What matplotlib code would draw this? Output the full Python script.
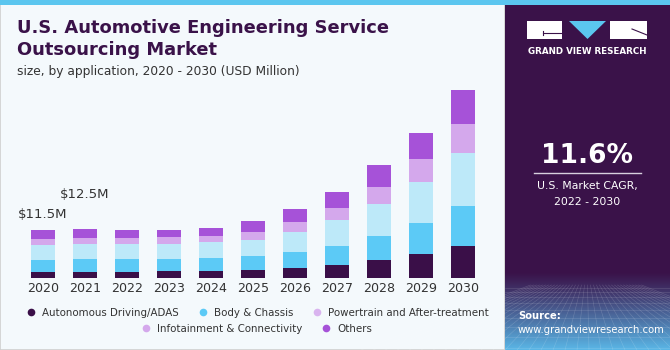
import numpy as np
import matplotlib.pyplot as plt
from matplotlib.patches import Rectangle, Polygon
from matplotlib.lines import Line2D

# data (USD Million)
years = ["2020", "2021", "2022", "2023", "2024", "2025", "2026", "2027", "2028", "2029", "2030"]
adas = [1.56, 1.56, 1.56, 1.73, 1.73, 2.03, 2.51, 3.22, 4.33, 5.82, 7.71]
body = [2.84, 3.00, 3.00, 2.84, 3.00, 3.17, 3.64, 4.50, 5.75, 7.33, 9.39]
powertrain = [3.48, 3.48, 3.48, 3.62, 3.79, 3.93, 4.80, 6.01, 7.57, 9.70, 12.47]
infotainment = [1.42, 1.42, 1.56, 1.59, 1.56, 1.75, 2.37, 2.98, 4.02, 5.30, 6.93]
others = [2.20, 2.13, 1.89, 1.73, 1.82, 2.60, 3.08, 3.79, 5.06, 6.15, 7.97]

series = ["Autonomous Driving/ADAS", "Body & Chassis", "Powertrain and After-treatment",
          "Infotainment & Connectivity", "Others"]
bar_colors = ["#3a0f48", "#5ccaf6", "#bde9f9", "#d4a8ec", "#a652d8"]
legend_colors = ["#3a0f48", "#5ccaf6", "#d9b4ef", "#d4a8ec", "#a652d8"]

W, H = 670, 350
fig = plt.figure(figsize=(6.7, 3.5), dpi=100)
fig.patch.set_facecolor("#f4f9fc")

# background axes in pixel coords
bg = fig.add_axes([0, 0, 1, 1])
bg.axis("off")

bg.add_patch(Rectangle((0, 0), 505, H, facecolor="#f4f9fc", edgecolor="#cfcfcf", lw=1.2))
# right panel
bg.add_patch(Rectangle((505, 0), 165, H, facecolor="#3a1249", edgecolor="none"))
grad = np.linspace(0, 1, 100).reshape(-1, 1)
top_c = np.array([0x3a, 0x12, 0x49]) / 255
bot_c = np.array([0x5a, 0xb6, 0xe6]) / 255
img = top_c + (bot_c - top_c) * grad[..., None] ** 1.1
bg.imshow(img, extent=(505, 670, 350, 272), aspect="auto", zorder=1)
# faint perspective grid
for i in range(-12, 26):
    x0 = 505 + i * 12
    bg.plot([587 + (x0 - 587) * 0.25, x0], [285, 350], color="white", lw=0.4, alpha=0.18, zorder=2)
for yy in [288, 292, 297, 303, 310, 318, 327, 337, 348]:
    bg.plot([505, 670], [yy, yy], color="white", lw=0.4, alpha=0.18, zorder=2)
bg.set_xlim(0, W)
bg.set_ylim(H, 0)

# top strip
bg.add_patch(Rectangle((0, 0), W, 5, facecolor="#5bc6ef", edgecolor="none", zorder=3))

# logo
bg.add_patch(Rectangle((527, 21), 35, 18, facecolor="white", edgecolor="none", zorder=3))
bg.add_patch(Polygon([(569, 21), (606, 21), (587.5, 39)], facecolor="#5bc6ef", edgecolor="none", zorder=3))
bg.add_patch(Rectangle((610, 21), 37, 18, facecolor="white", edgecolor="none", zorder=3))
bg.plot([543, 562], [33, 33], color="#3a1249", lw=0.8, zorder=4)
bg.plot([543, 543], [31, 35], color="#3a1249", lw=0.8, zorder=4)
bg.plot([632, 647], [29, 35], color="#3a1249", lw=0.8, zorder=4)
bg.text(587, 52, "GRAND VIEW RESEARCH", color="white", fontsize=6.3, fontweight="bold",
        ha="center", va="center", zorder=4)

bg.text(587, 156, "11.6%", color="white", fontsize=19, fontweight="bold",
        ha="center", va="center", zorder=4)
bg.plot([534, 641], [173, 173], color="#d8d0de", lw=1, zorder=4)
bg.text(587, 186, "U.S. Market CAGR,", color="white", fontsize=7.8, ha="center", va="center", zorder=4)
bg.text(587, 202, "2022 - 2030", color="white", fontsize=7.8, ha="center", va="center", zorder=4)
bg.text(518, 316, "Source:", color="white", fontsize=7.2, fontweight="bold", ha="left", va="center", zorder=4)
bg.text(518, 330, "www.grandviewresearch.com", color="white", fontsize=7.2, ha="left", va="center", zorder=4)

# titles
bg.text(17, 28, "U.S. Automotive Engineering Service", color="#3a1249", fontsize=12.9,
        fontweight="heavy", ha="left", va="center")
bg.text(17, 50, "Outsourcing Market", color="#3a1249", fontsize=12.9,
        fontweight="heavy", ha="left", va="center")
bg.text(17, 71, "size, by application, 2020 - 2030 (USD Million)", color="#333333",
        fontsize=8.85, ha="left", va="center")

# bar chart axes
base_px, top_px = 278.3, 80
ax = fig.add_axes([22 / W, (H - base_px) / H, 462 / W, (base_px - top_px) / H])
ax.set_facecolor("none")
x = np.arange(len(years))
bottom = np.zeros(len(years))
for vals, col in zip([adas, body, powertrain, infotainment, others], bar_colors):
    ax.bar(x, vals, 0.57, bottom=bottom, color=col, edgecolor="none")
    bottom += np.array(vals)
ax.set_xlim(-0.5, len(years) - 0.5)
ax.set_ylim(0, (base_px - top_px) * 11.5 / 48.6)
ax.set_xticks(x)
ax.set_xticklabels(years, fontsize=9.1, color="#333333")
ax.tick_params(axis="x", length=0, pad=3)
ax.set_yticks([])
for s in ax.spines.values():
    s.set_visible(False)

bg.text(43, 214, "$11.5M", fontsize=9.5, color="#333333", ha="center", va="center")
bg.text(85, 194, "$12.5M", fontsize=9.5, color="#333333", ha="center", va="center")

# legend
handles = [Line2D([], [], marker="o", ls="none", markersize=5.5, color=c, markeredgecolor="none")
           for c in legend_colors]
leg1 = fig.legend(handles[:3], series[:3], loc="center", bbox_to_anchor=(255 / W, (H - 313) / H),
                  ncol=3, frameon=False, fontsize=7.4, handletextpad=0.1, columnspacing=1.3,
                  labelcolor="#333333")
leg2 = fig.legend(handles[3:], series[3:], loc="center", bbox_to_anchor=(254 / W, (H - 329) / H),
                  ncol=2, frameon=False, fontsize=7.4, handletextpad=0.1, columnspacing=1.3,
                  labelcolor="#333333")

fig.savefig("out.png", dpi=100)
